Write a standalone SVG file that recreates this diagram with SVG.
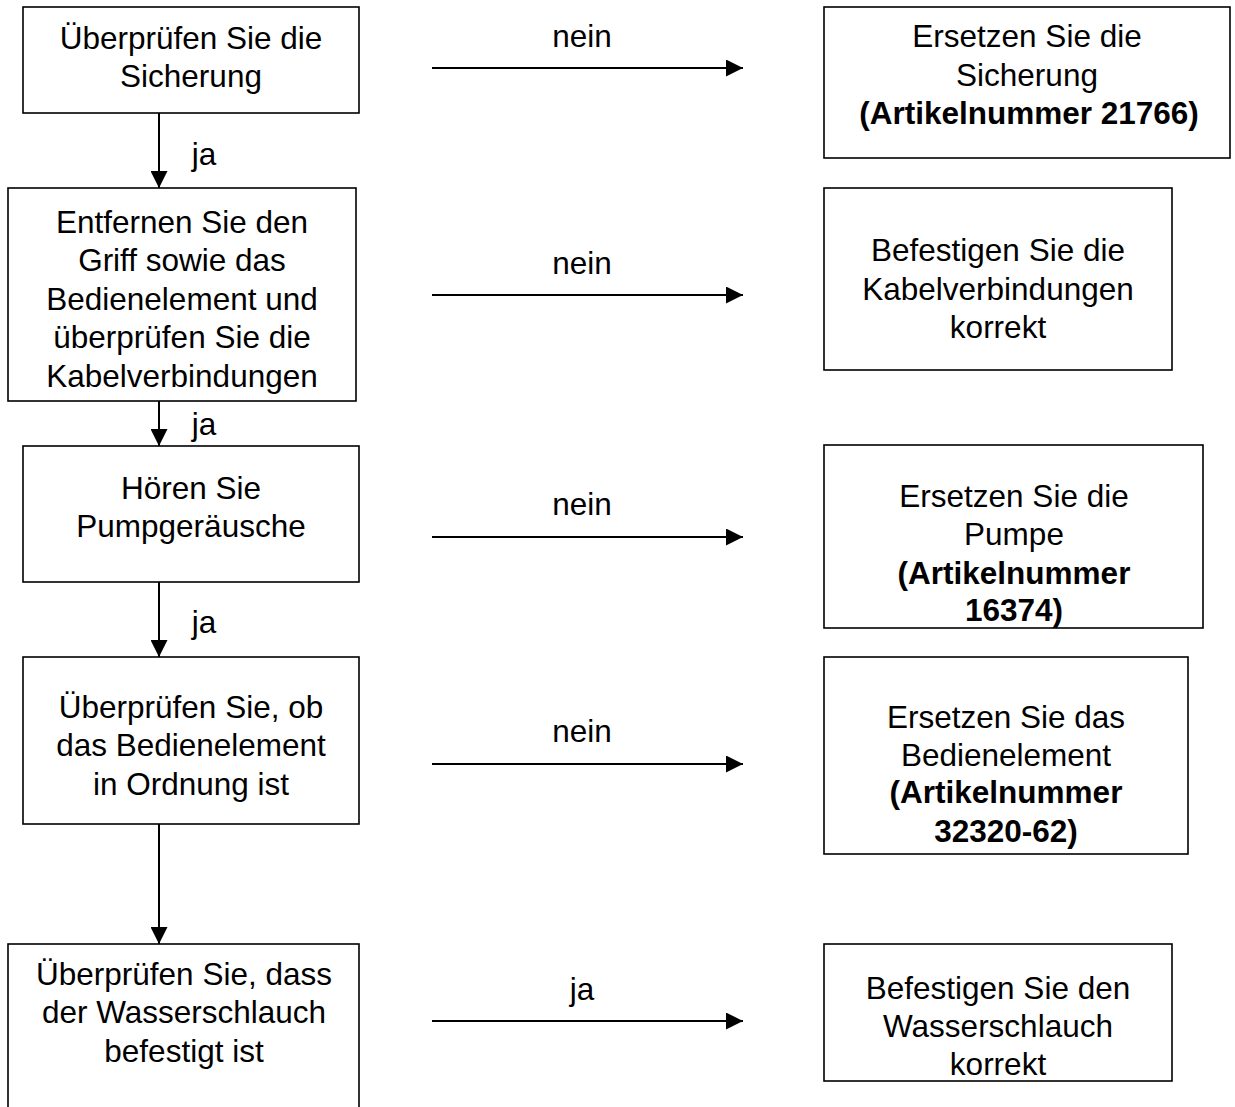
<svg xmlns="http://www.w3.org/2000/svg" width="1235" height="1107" viewBox="0 0 1235 1107">
<style>
.box{fill:#fff;stroke:#000;stroke-width:1.6}
.t{font-family:"Liberation Sans",Arial,sans-serif;font-size:31.5px;fill:#000;text-anchor:middle}
.b{font-weight:bold}
.c{stroke:#000;stroke-width:2;fill:none}
</style>
<defs>
<marker id="ah" markerUnits="userSpaceOnUse" markerWidth="18" markerHeight="17" refX="17" refY="8.5" orient="auto">
<path d="M0,0 L17,8.5 L0,17 Z" fill="#000"/>
</marker>
</defs>
<rect width="1235" height="1107" fill="#fff"/>
<g id="connectors">
<line class="c" x1="159" y1="113" x2="159" y2="188" marker-end="url(#ah)"/>
<line class="c" x1="159" y1="401" x2="159" y2="446" marker-end="url(#ah)"/>
<line class="c" x1="159" y1="582" x2="159" y2="657" marker-end="url(#ah)"/>
<line class="c" x1="159" y1="824" x2="159" y2="944" marker-end="url(#ah)"/>
<line class="c" x1="432" y1="68" x2="743" y2="68" marker-end="url(#ah)"/>
<line class="c" x1="432" y1="295" x2="743" y2="295" marker-end="url(#ah)"/>
<line class="c" x1="432" y1="537" x2="743" y2="537" marker-end="url(#ah)"/>
<line class="c" x1="432" y1="764" x2="743" y2="764" marker-end="url(#ah)"/>
<line class="c" x1="432" y1="1021" x2="743" y2="1021" marker-end="url(#ah)"/>
<text class="t" x="204" y="165">ja</text>
<text class="t" x="204" y="435">ja</text>
<text class="t" x="204" y="633">ja</text>
<text class="t" x="582" y="47">nein</text>
<text class="t" x="582" y="274">nein</text>
<text class="t" x="582" y="515">nein</text>
<text class="t" x="582" y="742">nein</text>
<text class="t" x="582" y="1000">ja</text>
</g>
<g id="n1">
<rect class="box" x="23" y="7" width="336" height="106"/>
<text class="t" x="191" y="49">Überprüfen Sie die</text>
<text class="t" x="191" y="87">Sicherung</text>
</g>
<g id="n2">
<rect class="box" x="8" y="188" width="348" height="213"/>
<text class="t" x="182" y="233">Entfernen Sie den</text>
<text class="t" x="182" y="271">Griff sowie das</text>
<text class="t" x="182" y="310">Bedienelement und</text>
<text class="t" x="182" y="348">überprüfen Sie die</text>
<text class="t" x="182" y="387">Kabelverbindungen</text>
</g>
<g id="n3">
<rect class="box" x="23" y="446" width="336" height="136"/>
<text class="t" x="191" y="499">Hören Sie</text>
<text class="t" x="191" y="537">Pumpgeräusche</text>
</g>
<g id="n4">
<rect class="box" x="23" y="657" width="336" height="167"/>
<text class="t" x="191" y="718">Überprüfen Sie, ob</text>
<text class="t" x="191" y="756">das Bedienelement</text>
<text class="t" x="191" y="795">in Ordnung ist</text>
</g>
<g id="n5">
<rect class="box" x="8" y="944" width="351" height="200"/>
<text class="t" x="184" y="985">Überprüfen Sie, dass</text>
<text class="t" x="184" y="1023">der Wasserschlauch</text>
<text class="t" x="184" y="1062">befestigt ist</text>
</g>
<g id="r1">
<rect class="box" x="824" y="7" width="406" height="151"/>
<text class="t" x="1027" y="47">Ersetzen Sie die</text>
<text class="t" x="1027" y="85.5">Sicherung</text>
<text class="t b" x="1029" y="124">(Artikelnummer 21766)</text>
</g>
<g id="r2">
<rect class="box" x="824" y="188" width="348" height="182"/>
<text class="t" x="998" y="261">Befestigen Sie die</text>
<text class="t" x="998" y="300">Kabelverbindungen</text>
<text class="t" x="998" y="338">korrekt</text>
</g>
<g id="r3">
<rect class="box" x="824" y="445" width="379" height="183"/>
<text class="t" x="1014" y="507">Ersetzen Sie die</text>
<text class="t" x="1014" y="545">Pumpe</text>
<text class="t b" x="1014" y="584">(Artikelnummer</text>
<text class="t b" x="1014" y="621">16374)</text>
</g>
<g id="r4">
<rect class="box" x="824" y="657" width="364" height="197"/>
<text class="t" x="1006" y="728">Ersetzen Sie das</text>
<text class="t" x="1006" y="766">Bedienelement</text>
<text class="t b" x="1006" y="803">(Artikelnummer</text>
<text class="t b" x="1006" y="842">32320-62)</text>
</g>
<g id="r5">
<rect class="box" x="824" y="944" width="348" height="137"/>
<text class="t" x="998" y="999">Befestigen Sie den</text>
<text class="t" x="998" y="1037">Wasserschlauch</text>
<text class="t" x="998" y="1075">korrekt</text>
</g>
</svg>
